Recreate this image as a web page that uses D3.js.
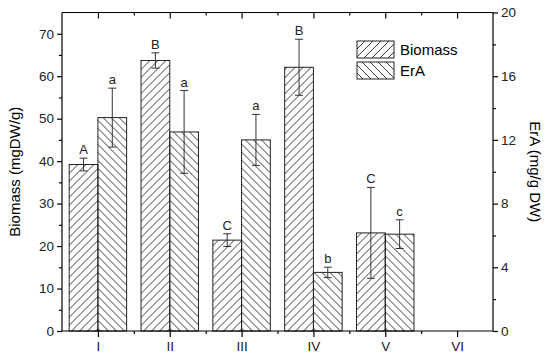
<!DOCTYPE html>
<html>
<head>
<meta charset="utf-8">
<script src="https://cdn.jsdelivr.net/npm/d3@7"></script>
<style>
  body { margin: 0; background: #fff; }
  svg { font-family: "Liberation Sans", Arial, sans-serif; }
  .axis path, .axis line { stroke: #000; }
</style>
</head>
<body>
<svg id="chart" width="550" height="359"></svg>
<script>
// data
var groups = ["I", "II", "III", "IV", "V", "VI"];
var biomass = [39.2, 63.7, 21.4, 62.1, 23.1, null];     // mgDW/g
var biomassErr = [1.5, 1.8, 1.5, 6.6, 10.7, null];
var biomassLetter = ["A", "B", "C", "B", "C", null];
var era = [13.4, 12.5, 12.0, 3.68, 6.08, null];           // mg/g DW
var eraErr = [1.85, 2.6, 1.6, 0.33, 0.9, null];
var eraLetter = ["a", "a", "a", "b", "c", null];
var leftTicks = [0, 10, 20, 30, 40, 50, 60, 70];
var rightTicks = [0, 4, 8, 12, 16, 20];

var svg = d3.select("#chart");
var margin = {top: 12.5, right: 57, bottom: 28, left: 62},
    width = 550 - margin.left - margin.right,
    height = 359 - margin.top - margin.bottom;

var g = svg.append("g").attr("transform", "translate(" + margin.left + "," + margin.top + ")");

var x = d3.scaleLinear().domain([0.5, 6.5]).range([0, width]);
var yL = d3.scaleLinear().domain([0, 75]).range([height, 0]);
var yR = d3.scaleLinear().domain([0, 20]).range([height, 0]);
var barW = x(1.4) - x(1);

// hatch patterns
var defs = svg.append("defs");
function hatch(id, back) {
  var p = defs.append("pattern")
      .attr("id", id)
      .attr("patternUnits", "userSpaceOnUse")
      .attr("width", 8).attr("height", 8);
  p.append("path")
      .attr("d", back ? "M-2,-2L10,10M-2,6L2,10M6,-2L10,2" : "M-2,10L10,-2M-2,2L2,-2M6,10L10,6")
      .attr("stroke", "#222").attr("stroke-width", 0.9);
}
hatch("hb", false);
hatch("he", true);

// bars
function bars(vals, errs, letters, y, off, fill) {
  groups.forEach(function(gr, i) {
    if (vals[i] == null) return;
    var cx = x(i + 1);
    var x0 = off < 0 ? cx - barW : cx;
    g.append("rect")
      .attr("x", x0).attr("y", y(vals[i]))
      .attr("width", barW).attr("height", height - y(vals[i]))
      .attr("fill", "url(#" + fill + ")")
      .attr("stroke", "#222").attr("stroke-width", 1);
    var ex = x0 + barW / 2,
        top = y(vals[i] + errs[i]),
        bot = y(vals[i] - errs[i]);
    g.append("line").attr("x1", ex).attr("x2", ex).attr("y1", top).attr("y2", bot)
      .attr("stroke", "#333").attr("stroke-width", 1);
    [top, bot].forEach(function(yy) {
      g.append("line").attr("x1", ex - 4).attr("x2", ex + 4).attr("y1", yy).attr("y2", yy)
        .attr("stroke", "#333").attr("stroke-width", 1);
    });
    g.append("text")
      .attr("x", ex).attr("y", top - 4)
      .attr("text-anchor", "middle")
      .attr("font-size", 13)
      .attr("fill", "#222")
      .text(letters[i]);
  });
}
bars(biomass, biomassErr, biomassLetter, yL, -1, "hb");
bars(era, eraErr, eraLetter, yR, 1, "he");

// axes
var catTicks = d3.range(1, 7), halfTicks = d3.range(1.5, 6.5, 1);

g.append("g").attr("class", "axis")
  .attr("transform", "translate(0," + height + ")")
  .call(d3.axisBottom(x).tickValues(catTicks).tickSize(6).tickPadding(4)
    .tickFormat(function(d) { return groups[d - 1]; }))
  .call(function(s) { s.select(".domain").attr("d", "M0,0H" + width); });
g.append("g").attr("class", "axis")
  .attr("transform", "translate(0," + height + ")")
  .call(d3.axisBottom(x).tickValues(halfTicks).tickSize(3).tickFormat(""))
  .call(function(s) { s.select(".domain").remove(); });

// top axis, ticks pointing in
g.append("g").attr("class", "axis")
  .call(d3.axisBottom(x).tickValues(catTicks).tickSize(6).tickFormat(""))
  .call(function(s) { s.select(".domain").attr("d", "M0,0H" + width); });
g.append("g").attr("class", "axis")
  .call(d3.axisBottom(x).tickValues(halfTicks).tickSize(3).tickFormat(""))
  .call(function(s) { s.select(".domain").remove(); });

g.append("g").attr("class", "axis")
  .call(d3.axisLeft(yL).tickValues(leftTicks).tickSize(5).tickPadding(3))
  .call(function(s) { s.select(".domain").attr("d", "M0,0V" + height); });
g.append("g").attr("class", "axis")
  .call(d3.axisLeft(yL).tickValues(d3.range(5, 75, 10)).tickSize(3).tickFormat(""))
  .call(function(s) { s.select(".domain").remove(); });

g.append("g").attr("class", "axis")
  .attr("transform", "translate(" + width + ",0)")
  .call(d3.axisRight(yR).tickValues(rightTicks).tickSize(5).tickPadding(3))
  .call(function(s) { s.select(".domain").attr("d", "M0,0V" + height); });
g.append("g").attr("class", "axis")
  .attr("transform", "translate(" + width + ",0)")
  .call(d3.axisRight(yR).tickValues(d3.range(2, 20, 4)).tickSize(3).tickFormat(""))
  .call(function(s) { s.select(".domain").remove(); });

g.selectAll(".axis text").attr("font-size", 13.5).attr("fill", "#222")
  .attr("font-family", "Liberation Sans, Arial, sans-serif");
g.selectAll(".axis line, .axis path").attr("stroke-width", 1.2);

// axis titles
svg.append("text")
  .attr("transform", "translate(20," + (margin.top + height / 2) + ") rotate(-90)")
  .attr("text-anchor", "middle")
  .attr("font-size", 15)
  .text("Biomass (mgDW/g)");
svg.append("text")
  .attr("transform", "translate(530," + (margin.top + height / 2) + ") rotate(90)")
  .attr("text-anchor", "middle")
  .attr("font-size", 15)
  .text("ErA (mg/g DW)");

// legend
var legend = svg.append("g").attr("transform", "translate(357,41)");
[["Biomass", "hb"], ["ErA", "he"]].forEach(function(d, i) {
  legend.append("rect")
    .attr("x", 0).attr("y", i * 21)
    .attr("width", 37).attr("height", 17)
    .attr("fill", "url(#" + d[1] + ")")
    .attr("stroke", "#222");
  legend.append("text")
    .attr("x", 43).attr("y", i * 21 + 14)
    .attr("font-size", 15)
    .text(d[0]);
});
</script>
</body>
</html>
